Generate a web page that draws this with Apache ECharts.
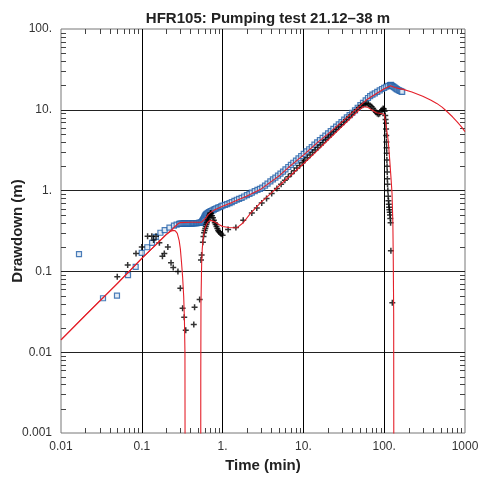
<!DOCTYPE html>
<html><head><meta charset="utf-8">
<script src="https://cdn.jsdelivr.net/npm/echarts@6/dist/echarts.min.js"></script>
<style>html,body{margin:0;padding:0;background:#fff}#c{width:479px;height:478px}</style>
</head><body><div id="c"></div>
<script>
// ---- axis labels ----
const xTickLabels = ['0.01', '0.1', '1.', '10.', '100.', '1000'];
const yTickLabels = ['0.001', '0.01', '0.1', '1.', '10.', '100.'];
const minorMultipliers = [2, 3, 4, 5, 6, 7, 8, 9];

// ---- measured drawdown (blue squares) ----
const drawdownTime = [0.0167,0.0331,0.0493,0.0675,0.084,0.0998,0.117,0.134,0.149,0.17,0.192,0.22,0.25,0.27,0.29,
 0.30,0.31,0.32,0.33,0.34,0.35,0.36,0.37,0.38,0.39,0.40,0.41,0.42,0.43,0.44,0.45,0.46,0.47,0.48,0.49,0.50,0.51,0.52,0.53,0.54,0.55,
 0.56,0.57,0.58,0.59,0.60,0.61,0.62,0.63,0.64,0.66,0.68,0.70,0.72,0.75,0.78,0.81,0.84,0.88,0.92,0.96,
 1.00,1.07,1.14,1.22,1.30,1.40,1.50,1.60,1.72,1.85,2.00,2.15,2.30,2.50,2.70,2.90,3.10,3.35,3.60,3.90,4.20,4.50,4.85,5.20,5.60,6.00,6.50,7.00,7.50,8.10,8.70,9.40,
 10.1,10.9,11.8,12.7,13.7,14.8,16.0,17.3,18.7,20.2,21.8,23.5,25.4,27.4,29.6,32.0,34.5,37.3,40.3,43.5,47.0,50.7,54.7,59.0,63.0,67.0,71.5,76.5,82.0,88.0,94.0,
 100,106,112,118,121,124,127,131,135,139,143,147,152,157,162,167];
const drawdownValue = [0.164,0.0465,0.050,0.090,0.114,0.170,0.199,0.226,0.268,0.301,0.325,0.348,0.368,0.380,0.388,
 0.390,0.391,0.391,0.392,0.392,0.393,0.393,0.393,0.393,0.394,0.394,0.394,0.394,0.395,0.395,0.395,0.395,0.396,0.396,0.397,0.397,0.398,0.398,0.400,0.402,0.408,
 0.418,0.430,0.445,0.460,0.475,0.490,0.500,0.510,0.518,0.530,0.540,0.548,0.556,0.568,0.580,0.592,0.603,0.615,0.627,0.638,
 0.650,0.665,0.680,0.700,0.720,0.745,0.770,0.790,0.815,0.845,0.880,0.910,0.945,0.985,1.02,1.05,1.09,1.15,1.22,1.30,1.38,1.45,1.53,1.62,1.72,1.83,1.96,2.08,2.21,2.35,2.50,2.68,
 2.85,3.05,3.25,3.46,3.70,3.95,4.22,4.50,4.80,5.12,5.46,5.82,6.20,6.60,7.05,7.55,8.05,8.60,9.20,9.85,10.6,11.4,12.2,13.1,14.0,14.8,15.4,16.0,16.7,17.4,18.1,
 18.7,19.3,19.8,20.2,20.3,20.0,19.6,19.2,18.8,18.4,18.0,17.7,17.4,17.1,16.9,16.7];

// ---- measured derivative (black crosses) ----
const derivTime = [0.0497,0.0669,0.0848,0.100,0.118,0.133,0.150,0.140,0.165,0.180,0.190,0.210,0.230,0.245,0.280,0.300,0.320,0.335,0.350,
 0.440,0.450,0.520,0.540,0.550,0.570,0.580,0.590,0.600,0.610,0.620,0.630,0.640,0.650,0.660,0.670,0.680,0.690,0.700,0.710,0.720,0.740,0.760,0.780,0.800,0.820,0.840,0.860,0.880,0.900,0.930,0.960,1.00,
 1.17,1.46,1.80,2.30,2.65,3.05,3.50,4.05,4.70,5.30,5.90,6.50,7.10,7.70,8.30,9.00,9.70,10.4,11.2,12.1,13.0,14.0,15.1,16.3,17.5,18.9,20.3,21.9,23.6,25.4,27.3,29.4,31.7,34.1,36.8,39.6,42.6,45.8,49.0,52.0,55.0,58.0,61.0,64.0,67.0,70.0,73.0,76.0,79.0,82.0,85.0,88.0,91.0,94.0,97.0,
 99.0,101,103,104,105,105.5,106,106.5,107,107.5,108,108.5,109,109.5,110,111,112,113,114,115,116,117,118,119,120,121,126];
const derivValue = [0.086,0.120,0.167,0.200,0.273,0.273,0.273,0.245,0.226,0.154,0.167,0.200,0.128,0.112,0.100,0.062,0.035,0.027,0.0187,
 0.022,0.036,0.045,0.138,0.160,0.230,0.270,0.300,0.320,0.340,0.360,0.380,0.400,0.420,0.440,0.460,0.480,0.500,0.520,0.530,0.520,0.490,0.460,0.430,0.400,0.380,0.360,0.340,0.320,0.310,0.300,0.290,0.280,
 0.330,0.350,0.430,0.530,0.610,0.700,0.800,0.920,1.06,1.20,1.34,1.48,1.62,1.76,1.90,2.05,2.21,2.37,2.55,2.75,2.96,3.18,3.42,3.68,3.95,4.25,4.57,4.92,5.30,5.70,6.12,6.58,7.08,7.60,8.15,8.75,9.40,10.0,10.7,11.2,11.6,11.8,12.0,11.7,11.3,10.9,10.4,9.80,9.30,9.00,8.80,9.00,9.50,10.0,10.4,
 10.2,9.60,8.50,7.60,6.80,5.80,4.80,4.00,3.40,2.90,2.40,2.00,1.70,1.40,1.20,1.00,0.85,0.75,0.68,0.62,0.58,0.54,0.50,0.45,0.40,0.18,0.041];

// ---- model drawdown (red) ----
const modelTime = [0.01,0.02,0.05,0.1,0.15,0.2,0.24,0.26,0.28,0.30,0.40,0.50,0.55,0.58,0.62,0.66,0.70,0.80,1.0,1.3,2.0,3.0,5.0,7.0,10,15,20,31,45,60,70,85,100,120,
 121,125,135,150,172,220,300,380,447,520,593,700,800,900,1000];
const modelValue = [0.0142,0.0285,0.071,0.145,0.215,0.285,0.335,0.362,0.388,0.402,0.405,0.405,0.406,0.420,0.460,0.500,0.530,0.580,0.640,0.710,0.860,1.05,1.52,2.05,2.75,3.95,5.00,7.30,10.2,13.2,14.6,16.5,18.2,19.8,
 19.7,19.4,18.9,18.4,17.9,16.6,14.7,13.1,12.0,10.8,9.6,8.2,7.1,6.2,5.36];

// ---- model derivative, early period (red) ----
const modelDerivATime = [0.01,0.02,0.05,0.1,0.15,0.2,0.225,0.245,0.26,0.275,0.29,0.30,0.31,0.32,0.33,0.337,0.342,0.345];
const modelDerivAValue = [0.0142,0.0285,0.071,0.145,0.215,0.285,0.312,0.322,0.318,0.295,0.24,0.19,0.13,0.085,0.049,0.025,0.010,0.00001];

// ---- model derivative, later period (red) ----
const modelDerivBTime = [0.536,0.537,0.54,0.55,0.56,0.575,0.60,0.63,0.66,0.70,0.74,0.80,0.90,1.0,1.2,1.5,1.8,2.2,3.0,4.0,5.5,7.0,10,14,20,28,38,48,55,58,62,70,80,90,100,
 106,112,117,121,125,128,129.5,131,132];
const modelDerivBValue = [0.00001,0.005,0.04,0.12,0.19,0.26,0.33,0.38,0.41,0.43,0.43,0.41,0.38,0.36,0.35,0.345,0.40,0.52,0.72,0.93,1.25,1.55,2.15,2.95,4.2,5.8,7.8,9.8,10.9,11.1,10.8,10.0,9.2,9.0,8.8,
 6.2,4.2,2.4,1.5,0.92,0.4,0.14,0.03,0.00001];

const X_MIN = 0.01, X_MAX = 1000, Y_MIN = 0.001, Y_MAX = 100;
const zip = (a, b) => a.map((v, i) => [v, b[i]]);

const chart = echarts.init(document.getElementById('c'), null, {renderer: 'canvas'});
const FONT = 'Liberation Sans, Arial, sans-serif';
const RED = '#e4202a';
const BLUE = '#1f5ea8';
const TL = 5;

chart.setOption({
  animation: false,
  backgroundColor: '#fff',
  title: {
    text: 'HFR105: Pumping test 21.12\u201338 m',
    left: 263, top: 6, textAlign: 'center',
    textStyle: {fontFamily: FONT, fontSize: 15, fontWeight: 'bold', color: '#222'}
  },
  grid: {left: 61, right: 14, top: 29, bottom: 45, outerBoundsMode: 'none', containLabel: false,
    show: true, borderColor: '#777', borderWidth: 1, backgroundColor: 'transparent'},
  xAxis: {
    type: 'log', logBase: 10, min: X_MIN, max: X_MAX,
    name: 'Time (min)', nameLocation: 'middle', nameGap: 25, nameMoveOverlap: false,
    nameTextStyle: {fontFamily: FONT, fontSize: 15, fontWeight: 'bold', color: '#222'},
    axisLine: {show: false}, axisTick: {show: false},
    axisLabel: {fontFamily: FONT, fontSize: 12, color: '#333', margin: 8,
      formatter: v => xTickLabels[Math.round(Math.log10(v)) + 2] || ''},
    splitLine: {show: true, showMinLine: false, showMaxLine: false, lineStyle: {color: '#000', width: 1}}
  },
  yAxis: {
    type: 'log', logBase: 10, min: Y_MIN, max: Y_MAX,
    name: 'Drawdown (m)', nameLocation: 'middle', nameGap: 36, nameMoveOverlap: false,
    nameTextStyle: {fontFamily: FONT, fontSize: 15, fontWeight: 'bold', color: '#222'},
    axisLine: {show: false}, axisTick: {show: false},
    axisLabel: {fontFamily: FONT, fontSize: 12, color: '#333', margin: 9,
      formatter: v => yTickLabels[Math.round(Math.log10(v)) + 3] || ''},
    splitLine: {show: true, showMinLine: false, showMaxLine: false, lineStyle: {color: '#222', width: 1}}
  },
  series: [
    {
      type: 'scatter', data: zip(drawdownTime, drawdownValue), symbol: 'rect', symbolSize: 5, z: 3,
      itemStyle: {color: '#dfe8f4', borderColor: BLUE, borderWidth: 1.2}
    },
    {
      type: 'scatter', data: zip(derivTime, derivValue), z: 4,
      symbol: 'path://M3,0H5V3H8V5H5V8H3V5H0V3H3Z', symbolSize: 6,
      itemStyle: {color: '#000'}
    },
    {type: 'line', data: zip(modelTime, modelValue), showSymbol: false, z: 5, lineStyle: {color: RED, width: 1.1}},
    {type: 'line', data: zip(modelDerivATime, modelDerivAValue), showSymbol: false, z: 5, lineStyle: {color: RED, width: 1.1}},
    {type: 'line', data: zip(modelDerivBTime, modelDerivBValue), showSymbol: false, z: 5, lineStyle: {color: RED, width: 1.1}}
  ]
});

// minor ticks on all four sides, positioned through the axes' own scales
const ticks = [];
const st = {stroke: '#444', lineWidth: 1};
for (let k = -2; k <= 2; k++) minorMultipliers.forEach(m => {
  const v = m * Math.pow(10, k);
  const b = chart.convertToPixel({gridIndex: 0}, [v, Y_MIN]);
  const t = chart.convertToPixel({gridIndex: 0}, [v, Y_MAX]);
  const x = Math.round(b[0]) + 0.5;
  ticks.push({type: 'line', silent: true, shape: {x1: x, y1: b[1], x2: x, y2: b[1] - TL}, style: st});
  ticks.push({type: 'line', silent: true, shape: {x1: x, y1: t[1], x2: x, y2: t[1] + TL}, style: st});
});
for (let k = -3; k <= 1; k++) minorMultipliers.forEach(m => {
  const v = m * Math.pow(10, k);
  const l = chart.convertToPixel({gridIndex: 0}, [X_MIN, v]);
  const r = chart.convertToPixel({gridIndex: 0}, [X_MAX, v]);
  const y = Math.round(l[1]) + 0.5;
  ticks.push({type: 'line', silent: true, shape: {x1: l[0], y1: y, x2: l[0] + TL, y2: y}, style: st});
  ticks.push({type: 'line', silent: true, shape: {x1: r[0], y1: y, x2: r[0] - TL, y2: y}, style: st});
});
chart.setOption({graphic: {elements: ticks}});
</script>
</body></html>
